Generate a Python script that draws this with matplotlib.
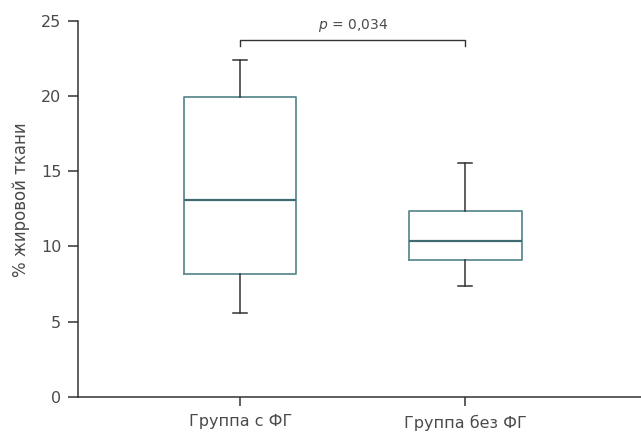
import matplotlib
matplotlib.use("Agg")
import matplotlib.pyplot as plt

# Box stats
groups = ["Группа с ФГ", "Группа без ФГ"]
whislo = [5.6, 7.4]
q1 = [8.2, 9.1]
med = [13.1, 10.35]
q3 = [19.9, 12.35]
whishi = [22.4, 15.55]
p_text = "$\\it{p}$ = 0,034"

plt.rcParams["font.family"] = ["DejaVu Sans"]
plt.rcParams["mathtext.fontset"] = "dejavusans"

text_col = "#4a4a4a"
axis_col = "#333333"
box_col = "#5f8c91"
med_col = "#3e6c71"

stats = []
for i, g in enumerate(groups):
    stats.append(dict(label=g, whislo=whislo[i], q1=q1[i], med=med[i],
                      q3=q3[i], whishi=whishi[i], fliers=[]))

fig = plt.figure(figsize=(6.41, 4.32), dpi=100)
ax = fig.add_axes([0.1217, 0.081, 0.8783, 0.871])

ax.bxp(stats, positions=[1, 2], widths=0.5, showfliers=False,
       boxprops=dict(color=box_col, linewidth=1.3),
       medianprops=dict(color=med_col, linewidth=1.6),
       whiskerprops=dict(color=axis_col, linewidth=1.1),
       capprops=dict(color=axis_col, linewidth=1.1),
       capwidths=0.062)

ax.set_xlim(0.28, 2.78)
ax.set_ylim(0, 25)
ax.set_yticks([0, 5, 10, 15, 20, 25])
ax.set_ylabel("% жировой ткани", fontsize=12, color=text_col)
ax.yaxis.set_label_coords(-0.086, 0.525)

for s in ["top", "right"]:
    ax.spines[s].set_visible(False)
for s in ["left", "bottom"]:
    ax.spines[s].set_color(axis_col)
    ax.spines[s].set_linewidth(1.1)
ax.tick_params(axis="both", colors=axis_col, width=1.1, labelcolor=text_col)
ax.tick_params(axis="y", labelsize=11.5, length=7, pad=5)
ax.tick_params(axis="x", labelsize=11.5, length=6.5, pad=6)

# significance bracket
yb = 23.75
ax.plot([1, 1, 2, 2], [yb - 0.4, yb, yb, yb - 0.4], color=axis_col, lw=1.0,
        clip_on=False)
ax.text(1.5, yb + 0.4, p_text, ha="center", va="bottom", fontsize=10,
        color=text_col)

fig.savefig("out.png", dpi=100)
